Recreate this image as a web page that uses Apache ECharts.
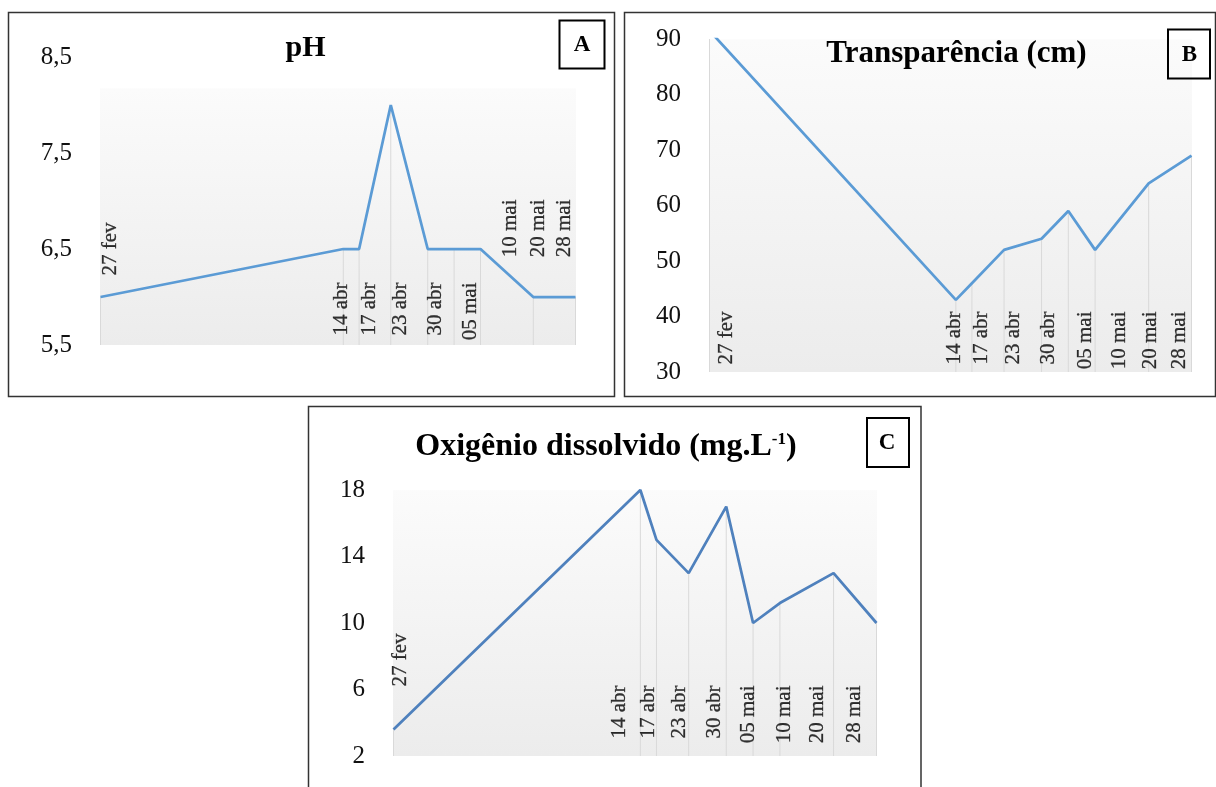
<!DOCTYPE html>
<html lang="pt">
<head>
<meta charset="utf-8">
<title>Variáveis limnológicas</title>
<script src="https://cdn.jsdelivr.net/npm/echarts@6/dist/echarts.min.js"></script>
<style>
    html, body { margin: 0; padding: 0; background: #fff; }
    #painel { width: 1216px; height: 787px; }
</style>
</head>
<body>
<div id="painel"></div>
<script>
// Datas de coleta (eixo de tempo) e rótulos
const dates = ['2023-02-27', '2023-04-14', '2023-04-17', '2023-04-23', '2023-04-30',
               '2023-05-05', '2023-05-10', '2023-05-20', '2023-05-28'];
const dateLabels = ['27 fev', '14 abr', '17 abr', '23 abr', '30 abr', '05 mai', '10 mai', '20 mai', '28 mai'];

// Valores
const phValues = [6.0, 6.5, 6.5, 8.0, 6.5, 6.5, 6.5, 6.0, 6.0];
const transparenciaValues = [91.5, 43, 46, 52, 54, 59, 52, 64, 69];
const oxigenioValues = [3.6, 18, 15, 13, 17, 10, 11.2, 13, 10];

// Marcas do eixo Y
const phTicks = [5.5, 6.5, 7.5, 8.5];
const transparenciaTicks = [30, 40, 50, 60, 70, 80, 90];
const oxigenioTicks = [2, 6, 10, 14, 18];

const SERIF = '"Liberation Serif", "Times New Roman", serif';
const TEXT_COLOR = '#111';

// Posição de cada painel e ajuste dos rótulos de data (dx, distância do fundo)
const panels = [
    {
        values: phValues, ticks: phTicks, step: 0.5, color: '#5b9bd5',
        grid: { left: 100, top: 57, width: 476, height: 288 },
        gradTop: 0.108,
        labelDx:  [10, -1.5, 11, 10.5, 8.5, 16.5, 30, 5.5, -11],
        labelGap: [122, 62, 62, 62, 62, 62, 145, 145, 145]
    },
    {
        values: transparenciaValues, ticks: transparenciaTicks, step: 10, color: '#5b9bd5',
        grid: { left: 709, top: 39, width: 483, height: 333 },
        gradTop: 0,
        labelDx:  [17.5, -1, 10.5, 9.5, 7, 18, 24.5, 2.5, -12],
        labelGap: [60, 60, 60, 60, 60, 60, 60, 60, 60]
    },
    {
        values: oxigenioValues, ticks: oxigenioTicks, step: 2, color: '#4f81bd',
        grid: { left: 393, top: 490, width: 484, height: 266 },
        gradTop: 0,
        labelDx:  [7, -20, -7.5, -9, -11.5, -4, 5.5, -16, -22],
        labelGap: [122, 70, 70, 70, 70, 70, 70, 70, 70]
    }
];

function fmtTick(ticks) {
    return function (v) {
        const hit = ticks.some(t => Math.abs(t - v) < 1e-6);
        if (!hit) return '';
        return (Number.isInteger(v) ? String(v) : v.toFixed(1)).replace('.', ',');
    };
}

const grids = [], xAxes = [], yAxes = [], series = [];

panels.forEach((p, i) => {
    grids.push(Object.assign({
        show: true,
        borderWidth: 0,
        backgroundColor: new echarts.graphic.LinearGradient(0, 0, 0, 1, [
            { offset: 0, color: '#ffffff' },
            { offset: p.gradTop, color: '#ffffff' },
            { offset: Math.min(p.gradTop + 0.002, 1), color: '#fbfbfb' },
            { offset: 1, color: '#ececec' }
        ])
    }, p.grid));

    xAxes.push({
        type: 'time',
        gridIndex: i,
        min: dates[0],
        max: dates[dates.length - 1],
        show: false
    });

    yAxes.push({
        type: 'value',
        gridIndex: i,
        min: p.ticks[0],
        max: p.ticks[p.ticks.length - 1],
        interval: p.step,
        axisLine: { show: false },
        axisTick: { show: false },
        splitLine: { show: false },
        axisLabel: {
            margin: 28,
            fontSize: 25,
            fontFamily: SERIF,
            color: TEXT_COLOR,
            formatter: fmtTick(p.ticks)
        }
    });

    // Linhas de projeção até o eixo
    series.push({
        type: 'bar',
        xAxisIndex: i,
        yAxisIndex: i,
        data: dates.map((d, k) => [d, p.values[k]]),
        barWidth: 1,
        itemStyle: { color: '#d9d9d9' },
        clip: true,
        silent: true,
        z: 1
    });

    series.push({
        type: 'line',
        xAxisIndex: i,
        yAxisIndex: i,
        data: dates.map((d, k) => [d, p.values[k]]),
        symbol: 'none',
        lineStyle: { color: p.color, width: 2.75 },
        clip: true,
        silent: true,
        z: 3
    });

    // Rótulos das datas (verticais, dentro da área do gráfico)
    series.push({
        type: 'scatter',
        xAxisIndex: i,
        yAxisIndex: i,
        data: dates.map((d, k) => ({
            name: dateLabels[k],
            value: [d, p.ticks[0]],
            label: { position: [p.labelDx[k], -p.labelGap[k]] }
        })),
        symbolSize: 1,
        itemStyle: { color: 'rgba(0,0,0,0)' },
        clip: false,
        silent: true,
        z: 4,
        label: {
            show: true,
            formatter: '{b}',
            rotate: 90,
            align: 'right',
            verticalAlign: 'middle',
            fontSize: 21,
            fontFamily: SERIF,
            color: '#000',
            textBorderColor: '#000',
            textBorderWidth: 0.3
        }
    });
});

function frame(x, y, w, h, lw, color) {
    return {
        type: 'rect', silent: true,
        shape: { x: x, y: y, width: w, height: h },
        style: { fill: 'none', stroke: color, lineWidth: lw }
    };
}

function txt(text, x, y, size, rich) {
    return {
        type: 'text', silent: true, x: x, y: y,
        style: {
            text: text,
            font: 'bold ' + size + 'px ' + SERIF,
            fill: '#000',
            textAlign: 'center',
            textVerticalAlign: 'middle',
            rich: rich
        }
    };
}

const chart = echarts.init(document.getElementById('painel'), null, { renderer: 'canvas' });

chart.setOption({
    animation: false,
    grid: grids,
    xAxis: xAxes,
    yAxis: yAxes,
    series: series,
    graphic: [
        frame(8.5, 12.5, 606, 384, 1.5, '#333'),
        frame(624.5, 12.5, 591, 384, 1.5, '#333'),
        frame(308.5, 406.5, 612.5, 400, 1.5, '#333'),
        frame(559.5, 20.5, 45, 48, 2, '#000'),
        frame(1168, 29.5, 42, 49, 2, '#000'),
        frame(867, 418, 42, 49, 2, '#000'),
        txt('A', 582, 45, 23),
        txt('B', 1189.5, 55, 23),
        txt('C', 887, 443, 23),
        txt('pH', 305.5, 48, 30),
        txt('Transparência (cm)', 956.5, 54, 31),
        txt('Oxigênio dissolvido (mg.L{sup|-1})', 606, 447, 32, {
            sup: { font: 'bold 17px ' + SERIF, fill: '#000', verticalAlign: 'top', padding: [0, 0, 11, 0] }
        })
    ]
});

window.addEventListener('resize', function () {
    chart.resize();
});
</script>
</body>
</html>
